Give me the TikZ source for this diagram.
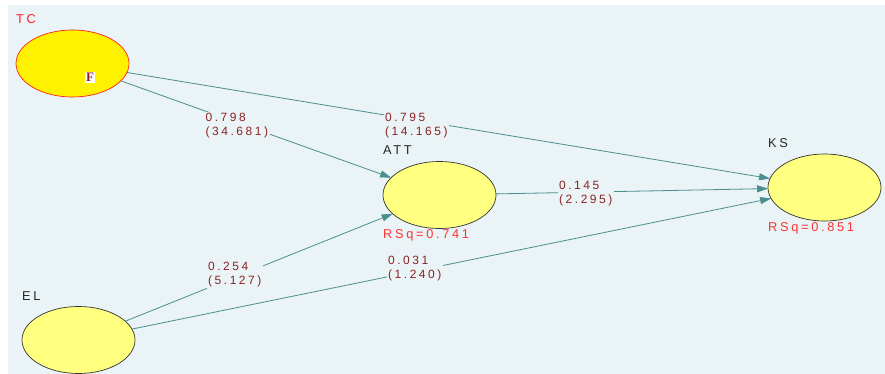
\documentclass[tikz,border=0pt]{standalone}
\usepackage{fontspec}
\setmainfont{Liberation Sans}
\newfontfamily\plsfont[LetterSpace=21]{Liberation Sans}
\newfontfamily\serifF{Liberation Serif}
\usetikzlibrary{shapes.geometric,arrows.meta}
\definecolor{bgc}{HTML}{EAF3F5}
\definecolor{edgec}{HTML}{4B8E8E}
\definecolor{labc}{HTML}{8B2323}
\definecolor{rsqc}{HTML}{FF3333}
\definecolor{tcred}{HTML}{FF2020}
\definecolor{lvfill}{HTML}{FFFF80}
\tikzset{
  lv/.style={ellipse, draw=black!80, fill=lvfill, line width=0.7pt, minimum width=113pt, minimum height=67pt, inner sep=0pt, outer sep=0pt},
  edge/.style={draw=edgec, line width=0.8pt, -{Triangle[length=11pt,width=7pt]}},
  coef/.style={font=\plsfont\fontsize{12}{14}\selectfont, text=labc, fill=bgc, align=left, anchor=west, inner sep=1.5pt},
  lvname/.style={font=\plsfont\fontsize{12.8}{14}\selectfont, anchor=west, inner sep=0pt},
}
\begin{document}
\begin{tikzpicture}[x=1pt,y=-1pt]
\useasboundingbox (0,0) rectangle (885,374);
\fill[bgc] (8,5) rectangle (885,374);
% latent variables
\node[lv, fill=yellow, draw=tcred] (TC) at (72.5,63.5) {};
\node[lv] (ATT) at (439.5,195) {};
\node[lv] (KS) at (824.5,187.5) {};
\node[lv] (EL) at (78.5,340) {};
% edges
\draw[edge] (TC) -- (ATT);
\draw[edge] (TC) -- (KS);
\draw[edge] (ATT) -- (KS);
\draw[edge] (EL) -- (ATT);
\draw[edge] (EL) -- (KS);
% coefficient labels
\node[coef] (cTCATT) at (204,126) {0.798\\(34.681)};
\node[coef] (cTCKS) at (383.5,126) {0.795\\(14.165)};
\node[coef] (cATTKS) at (557.5,193.5) {0.145\\(2.295)};
\node[coef] (cELATT) at (206.5,275) {0.254\\(5.127)};
\node[coef] (cELKS) at (386.5,268.5) {0.031\\(1.240)};
% names
\node[lvname, text=tcred] (nTC) at (16,19) {TC};
\node[lvname, text=black!85] (nATT) at (383,150) {ATT};
\node[lvname, text=black!85] (nKS) at (768,143.3) {KS};
\node[lvname, text=black!85] (nEL) at (22,296) {EL};
\node[lvname, text=rsqc] (rATT) at (383,235) {RSq=0.741};
\node[lvname, text=rsqc] (rKS) at (768,228.3) {RSq=0.851};
\node[fill=white, text=labc, inner sep=1pt, font=\serifF\bfseries\fontsize{13}{13}\selectfont] (F) at (90,77.5) {F};
\end{tikzpicture}
\end{document}
